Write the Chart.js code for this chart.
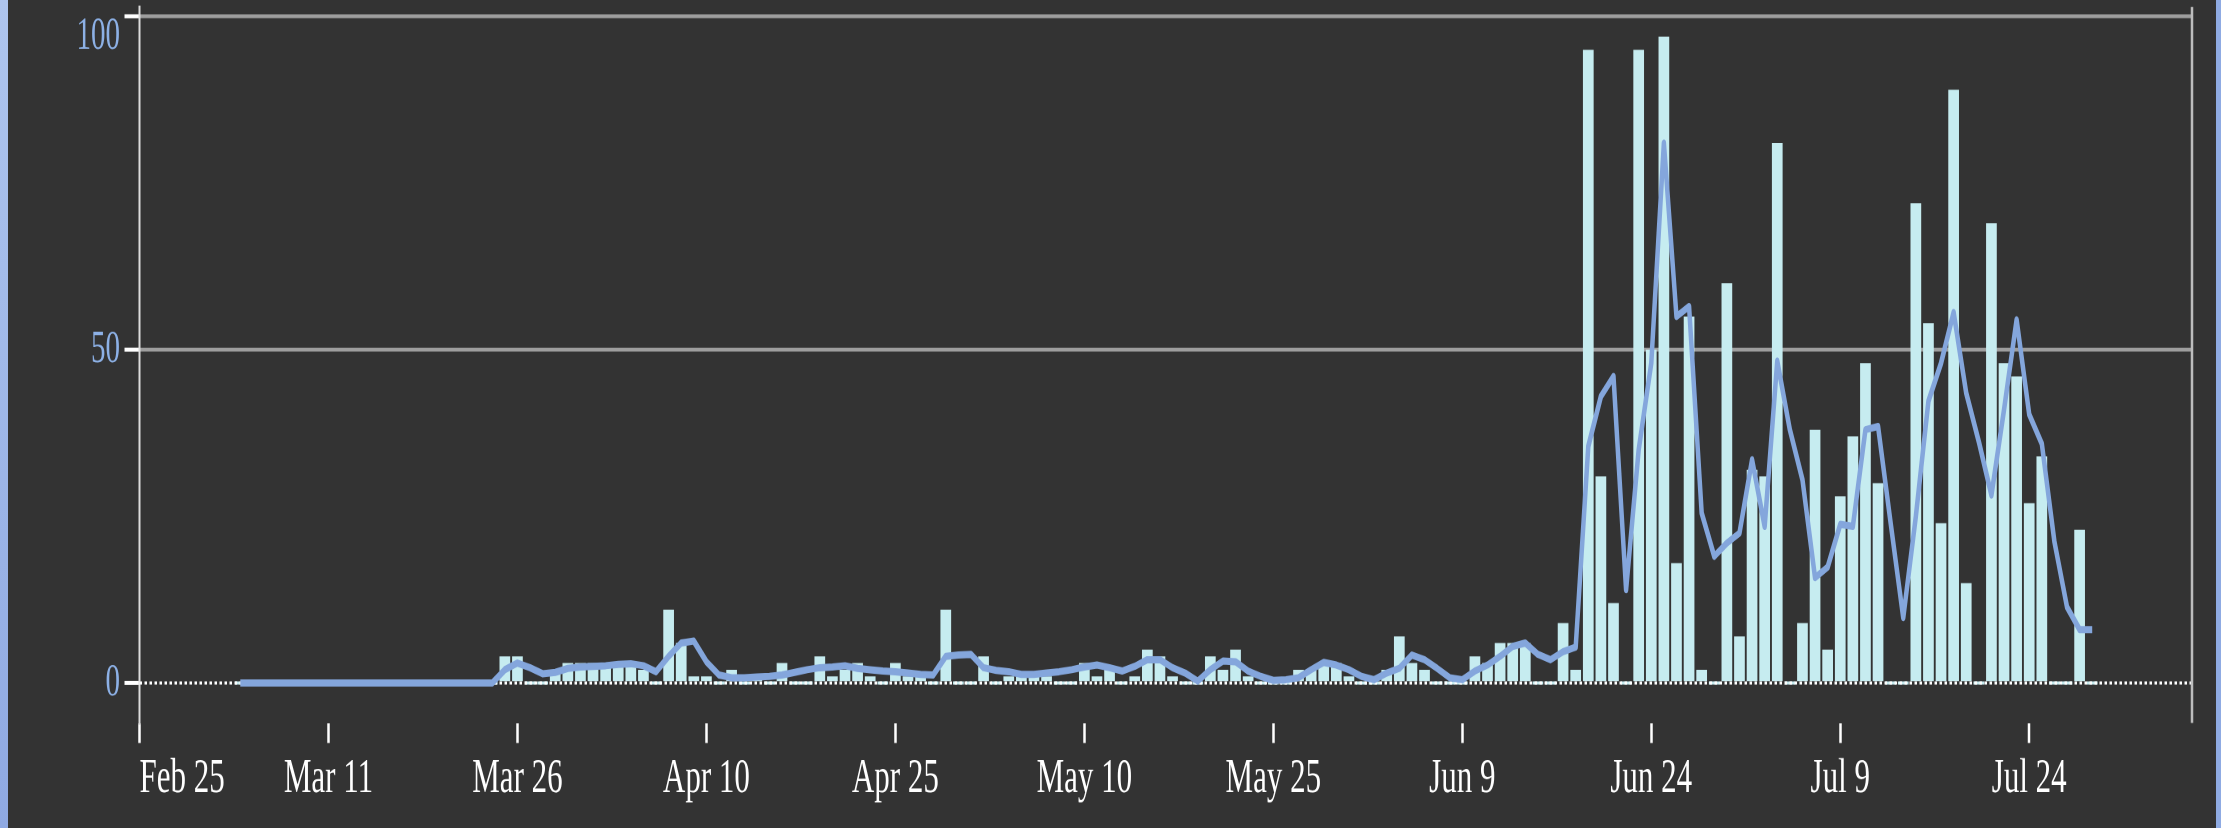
<!DOCTYPE html>
<html>
<head>
<meta charset="utf-8">
<title>Daily counts</title>
<script src="https://cdn.jsdelivr.net/npm/chart.js@4.4.1/dist/chart.umd.min.js"></script>
<style>
    html, body { margin: 0; padding: 0; background: #333333; overflow: hidden; }
    body { width: 2221px; height: 828px; position: relative; }
    /* the original is a vertically stretched svg, so the chart is drawn short and stretched */
    #chartWrap { position: absolute; left: 0; top: 0; width: 2221px; height: 518px; transform: scaleY(1.5985); transform-origin: 0 0; }
    .edge { position: absolute; top: 0; height: 828px; }
    #edgeLeft { left: 0; width: 8px; background: linear-gradient(#aec5ee, #8fa9e2); }
    #edgeRight { right: 0; width: 5px; background: #8fabe3; }
</style>
</head>
<body>
<div id="chartWrap"><canvas id="dailyChart"></canvas></div>
<div class="edge" id="edgeLeft"></div>
<div class="edge" id="edgeRight"></div>
<script>
// day numbers count from Feb 25 (day 0)
const startDay = 8;
const lastDay = 163;
const tickDays = [0, 15, 30, 45, 60, 75, 90, 105, 120, 135, 150];
const tickLabels = ['Feb 25', 'Mar 11', 'Mar 26', 'Apr 10', 'Apr 25', 'May 10', 'May 25', 'Jun 9', 'Jun 24', 'Jul 9', 'Jul 24'];
const yTicks = [0, 50, 100];

// one value per day, from startDay on
const dailyCounts = [
    0, 0, 0, 0, 0, 0, 0, 0, 0, 0,
    0, 0, 0, 0, 0, 0, 0, 0, 0, 0,
    0, 4, 4, 0, 0, 2, 3, 3, 3, 3,
    3, 3, 2, 0, 11, 6, 1, 1, 0, 2,
    0, 1, 0, 3, 0, 0, 4, 1, 2, 3,
    1, 0, 3, 1, 1, 0, 11, 0, 0, 4,
    0, 1, 1, 1, 1, 0, 0, 3, 1, 2,
    0, 1, 5, 4, 1, 0, 0, 4, 2, 5,
    1, 0, 0, 0, 2, 2, 3, 3, 1, 0,
    0, 2, 7, 3, 2, 0, 0, 0, 4, 3,
    6, 6, 6, 0, 0, 9, 2, 95, 31, 12,
    0, 95, 50, 97, 18, 55, 2, 0, 60, 7,
    32, 31, 81, 0, 9, 38, 5, 28, 37, 48,
    30, 0, 0, 72, 54, 24, 89, 15, 0, 69,
    48, 46, 27, 34, 0, 0, 23, 0
];

const rollingAvg = [
    0, 0, 0, 0, 0, 0, 0, 0, 0, 0,
    0, 0, 0, 0, 0, 0, 0, 0, 0, 0,
    0, 2, 3, 2.3, 1.4, 1.6, 2.2, 2.4, 2.5, 2.6,
    2.8, 2.9, 2.6, 1.7, 4, 6, 6.3, 3.2, 1.2, 0.8,
    0.8, 0.9, 1, 1.2, 1.6, 2, 2.3, 2.4, 2.6, 2.2,
    2, 1.8, 1.7, 1.5, 1.3, 1.2, 4, 4.2, 4.3, 2.3,
    1.9, 1.7, 1.3, 1.3, 1.5, 1.7, 2, 2.4, 2.7, 2.3,
    1.8, 2.5, 3.5, 3.5, 2.3, 1.5, 0.3, 2, 3.3, 3.2,
    1.8, 1, 0.4, 0.5, 0.8, 2, 3.1, 2.7, 2, 1,
    0.5, 1.5, 2.2, 4.2, 3.5, 2.2, 0.8, 0.5, 1.8, 2.7,
    4, 5.5, 6, 4.3, 3.5, 4.7, 5.4, 35.5, 43, 46,
    14, 35, 48, 81, 55, 56.5, 25.5, 19, 21, 22.5,
    33.5, 23.5, 48.3, 38, 30.5, 15.8, 17.4, 23.8, 23.5, 38,
    38.5, 24, 9.8, 25, 42.3, 48, 55.6, 43.5, 36.2, 28.2,
    41, 54.5, 40.3, 35.9, 21.2, 11.4, 8, 8
];

const serif = "'Liberation Serif', 'Times New Roman', serif";

// right frame line of the plot area
const rightFrame = {
    id: 'rightFrame',
    afterDraw: function(chart) {
        const area = chart.chartArea;
        const c = chart.ctx;
        c.save();
        c.strokeStyle = '#bdbdbd';
        c.lineWidth = 2.5;
        c.beginPath();
        c.moveTo(area.right - 1, area.top);
        c.lineTo(area.right - 1, area.bottom);
        c.stroke();
        c.restore();
    }
};

document.addEventListener('DOMContentLoaded', function() {
    const ctx = document.getElementById('dailyChart').getContext('2d');
    const dailyChart = new Chart(ctx, {
        type: 'bar',
        data: {
            datasets: [{
                type: 'line',
                label: 'Average',
                data: rollingAvg.map((v, i) => ({ x: startDay + i, y: v })),
                borderColor: '#84a6dc',
                borderWidth: 4.5,
                borderJoinStyle: 'round',
                pointRadius: 0,
                tension: 0,
                order: 0
            }, {
                type: 'line',
                label: 'Zero',
                data: [{ x: 0, y: 0 }, { x: lastDay, y: 0 }],
                borderColor: '#ffffff',
                borderWidth: 2,
                borderDash: [2.5, 2.5],
                pointRadius: 0,
                order: 1
            }, {
                label: 'Daily',
                data: dailyCounts.map((v, i) => ({ x: startDay + i, y: v })),
                backgroundColor: '#c6ecf0',
                barPercentage: 0.85,
                categoryPercentage: 1,
                minBarLength: 2,
                order: 2
            }]
        },
        plugins: [rightFrame],
        options: {
            responsive: true,
            maintainAspectRatio: false,
            devicePixelRatio: 2,
            animation: false,
            events: [],
            layout: {
                padding: { left: 0, right: 28, top: 4.4, bottom: 0 }
            },
            plugins: {
                legend: { display: false },
                tooltip: { enabled: false }
            },
            scales: {
                x: {
                    type: 'linear',
                    min: 0,
                    max: lastDay,
                    offset: false,
                    afterBuildTicks: function(scale) {
                        // extra unlabeled tick at the end so 'inner' only moves the first label
                        scale.ticks = tickDays.concat([lastDay]).map(v => ({ value: v }));
                    },
                    afterFit: function(scale) {
                        scale.height = 65.7;
                        scale.paddingLeft = 0;
                        scale.paddingRight = 0;
                    },
                    border: { display: false },
                    grid: {
                        offset: false,
                        drawOnChartArea: false,
                        tickLength: 12.5,
                        tickWidth: 2.5,
                        tickColor: c => c.index === tickDays.length ? 'rgba(0,0,0,0)' : '#ffffff'
                    },
                    ticks: {
                        autoSkip: false,
                        maxRotation: 0,
                        align: 'inner',
                        padding: 4,
                        color: '#ffffff',
                        font: { family: serif, size: 31 },
                        callback: (value, index) => tickLabels[index] || ''
                    }
                },
                y: {
                    min: -6,
                    max: 101.42,
                    afterBuildTicks: function(scale) {
                        scale.ticks = yTicks.map(v => ({ value: v }));
                    },
                    afterFit: function(scale) {
                        scale.width = 139.5;
                        scale.paddingTop = 0;
                        scale.paddingBottom = 0;
                    },
                    border: { display: true, color: '#dcdcdc', width: 2 },
                    grid: {
                        color: c => (c.tick && c.tick.value === 0) ? 'rgba(0,0,0,0)' : '#9e9e9e',
                        lineWidth: 2.4,
                        tickLength: 15,
                        tickWidth: 2.5,
                        tickColor: '#ffffff'
                    },
                    ticks: {
                        padding: 4.5,
                        color: '#8db1e6',
                        font: c => ({
                            family: serif,
                            size: 29,
                            lineHeight: (c.tick && c.tick.value === 100) ? 0.85 : 1.2
                        }),
                        // the top label sits just under its line in the original
                        callback: value => value === 100 ? ['', '100'] : String(value)
                    }
                }
            }
        }
    });
});
</script>
</body>
</html>
